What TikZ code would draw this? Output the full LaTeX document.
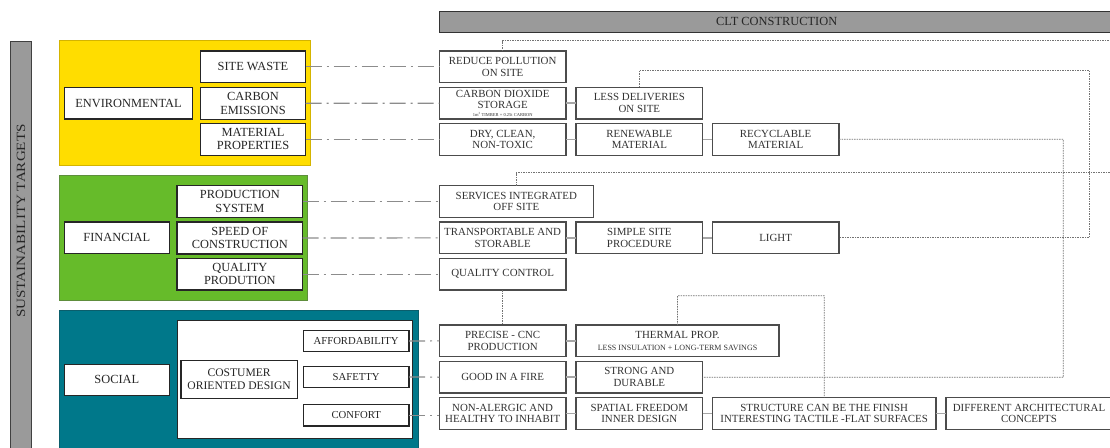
\documentclass[tikz,border=0pt]{standalone}
\usepackage{fontspec}
\setmainfont{Liberation Serif}
\definecolor{ylw}{HTML}{FFDD00}
\definecolor{ylwb}{HTML}{D4B400}
\definecolor{grn}{HTML}{66BB2A}
\definecolor{grnb}{HTML}{5E8E3C}
\definecolor{teal}{HTML}{00788A}
\definecolor{tealb}{HTML}{0B5E6C}
\definecolor{barg}{HTML}{9A9A9A}
\newcommand\bx[7][rbox]{\node[#1, minimum width={#5-#3}, minimum height={#6-#4}] (#2) at (#3,#4) {#7};}
\begin{document}
\begin{tikzpicture}[x=1pt,y=-1pt,
  basebox/.style={fill=white, inner sep=0pt, outer sep=0pt, align=center, anchor=north west},
  lbox/.style={basebox, draw=black!85, line width=1.3pt, text=black!85, font=\fontsize{12.4}{13.3}\selectfont},
  sbox/.style={basebox, draw=black!85, line width=1.3pt, text=black!85, font=\fontsize{10.7}{11.7}\selectfont},
  cbox/.style={basebox, draw=black!85, line width=1.1pt, text=black!85, font=\fontsize{11.6}{12.6}\selectfont},
  rbox/.style={basebox, draw=black!70, line width=1.2pt, text=black!80, font=\fontsize{10.9}{11.7}\selectfont},
  barbox/.style={anchor=north west, fill=barg, draw=black!80, line width=1pt, inner sep=0pt, text=black!85, font=\fontsize{12.4}{13.3}\selectfont},
  ddline/.style={draw=black!45, line width=1.2pt, dash pattern=on 16pt off 5pt on 2pt off 5pt},
  dotline/.style={draw=black!55, line width=0.8pt, dash pattern=on 1.5pt off 1pt},
  link/.style={draw=black!35, line width=1.5pt}
]
\useasboundingbox (0,0) rectangle (1110,447);

% left vertical bar
\draw[fill=barg, draw=black!75, line width=1pt] (10.3,41) rectangle (31.5,450);
\node[rotate=90, text=black!85] (sust) at (21,221) {\scalebox{1.2}[1]{\fontsize{12.6}{13}\selectfont SUSTAINABILITY TARGETS}};

% top bar
\node[barbox, minimum width={1125-439.3}, minimum height=21] (clt) at (439.3,10.7) {\hspace*{-12pt}CLT CONSTRUCTION};

% panels
\draw[fill=ylw, draw=ylwb, line width=1pt] (59.3,40.7) rectangle (310.7,165.7);
\draw[fill=grn, draw=grnb, line width=1pt] (59.3,175.7) rectangle (307.7,300.3);
\draw[fill=teal, draw=tealb, line width=1pt] (59.3,310) rectangle (418.3,450);
\draw[fill=white, draw=black!85, line width=1.3pt] (177.3,320.7) rectangle (412.7,438.3);

% environmental
\bx[lbox]{env}{64.3}{87.7}{192.7}{119}{ENVIRONMENTAL}
\bx[lbox]{waste}{200.3}{51}{305.7}{82.7}{SITE WASTE}
\bx[lbox]{carbon}{200.3}{87.5}{305.7}{119.2}{CARBON\\EMISSIONS}
\bx[lbox]{matprop}{200.3}{123.3}{305.7}{155.3}{MATERIAL\\PROPERTIES}

% financial
\bx[lbox]{fin}{64.3}{222}{169.3}{253.7}{FINANCIAL}
\bx[lbox]{prodsys}{177}{185.7}{302.7}{217.3}{PRODUCTION\\SYSTEM}
\bx[lbox]{speed}{177}{222}{302.7}{254}{SPEED OF\\CONSTRUCTION}
\bx[lbox]{qprod}{177}{258.3}{302.7}{290}{QUALITY\\PRODUTION}

% social
\bx[lbox]{social}{64.3}{364.3}{169.3}{395.3}{SOCIAL}
\bx[cbox]{costumer}{181}{360.3}{297.3}{398.7}{COSTUMER\\ORIENTED DESIGN}
\bx[sbox]{afford}{303.3}{330.3}{409}{351.7}{AFFORDABILITY}
\bx[sbox]{safety}{303.3}{366.3}{409}{387.7}{SAFETTY}
\bx[sbox]{confort}{303.3}{404.7}{409}{426}{CONFORT}

% right column - environmental
\bx{reduce}{439.3}{51}{566}{82.7}{REDUCE POLLUTION\\ON SITE}
\bx{co2}{439.3}{87.3}{566}{119}{CARBON DIOXIDE\\STORAGE\\[-4.3pt]{\fontsize{4.5}{5}\selectfont 1m\textsuperscript{3} TIMBER = 0.25t CARBON}}
\bx{less}{576}{87.3}{702.7}{119}{LESS DELIVERIES\\ON SITE}
\bx{dry}{439.3}{123.3}{566}{155.3}{DRY, CLEAN,\\NON-TOXIC}
\bx{renew}{576}{123.3}{702.7}{155.3}{RENEWABLE\\MATERIAL}
\bx{recycl}{712.3}{123.3}{839}{155.3}{RECYCLABLE\\MATERIAL}

% right column - financial
\bx{services}{439.3}{185.7}{593.3}{217.3}{SERVICES INTEGRATED\\OFF SITE}
\bx{transp}{439.3}{222}{566}{253.7}{TRANSPORTABLE AND\\STORABLE}
\bx{simple}{576}{222}{702.7}{253.7}{SIMPLE SITE\\PROCEDURE}
\bx{light}{712.3}{222}{839}{253.7}{LIGHT}
\bx{qc}{439.3}{258.3}{566}{290}{QUALITY CONTROL}

% right column - social
\bx{precise}{439.3}{325}{566}{356.7}{PRECISE - CNC\\PRODUCTION}
\bx{thermal}{576}{325}{779}{356.7}{THERMAL PROP.\\{\fontsize{8}{9}\selectfont LESS INSULATION + LONG-TERM SAVINGS}}
\bx{fire}{439.3}{361.3}{566}{393}{GOOD IN A FIRE}
\bx{strong}{576}{361.3}{702.7}{393}{STRONG AND\\DURABLE}
\bx{nonal}{439.3}{397.3}{566}{429.3}{NON-ALERGIC AND\\HEALTHY TO INHABIT}
\bx{spatial}{576}{397.3}{702.7}{429.3}{SPATIAL FREEDOM\\INNER DESIGN}
\bx{structure}{712.3}{397.3}{936}{429.3}{STRUCTURE CAN BE THE FINISH\\INTERESTING TACTILE -FLAT SURFACES}
\bx{diff}{946}{397.3}{1118}{429.3}{\hspace*{-6pt}DIFFERENT ARCHITECTURAL\\\hspace*{-6pt}CONCEPTS}

% dash-dot connectors
\draw[ddline] (waste.east) -- (reduce.west);
\draw[ddline] (carbon.east) -- (co2.west);
\draw[ddline] (matprop.east) -- (dry.west);
\draw[ddline] (prodsys.east) -- (services.west);
\draw[ddline] (speed.east) -- (transp.west);
\draw[ddline] (qprod.east) -- (qc.west);
\draw[ddline] (afford.east) -- (precise.west);
\draw[ddline] (safety.east) -- (fire.west);
\draw[ddline] (confort.east) -- (confort.east -| nonal.west);

% solid links
\draw[link] (co2.east) -- (less.west);
\draw[link] (dry.east) -- (renew.west);
\draw[link] (renew.east) -- (recycl.west);
\draw[link] (transp.east) -- (simple.west);
\draw[link] (simple.east) -- (light.west);
\draw[link] (precise.east) -- (thermal.west);
\draw[link] (fire.east) -- (strong.west);
\draw[link] (nonal.east) -- (spatial.west);
\draw[link] (spatial.east) -- (structure.west);
\draw[link] (structure.east) -- (diff.west);

% dotted connectors
\coordinate (endA) at (1111,40.8);
\coordinate (endB) at (1111,172.7);
\draw[dotline] (reduce.north) |- (endA);
\draw[dotline] (services.north) |- (endB);
\draw[dotline] (less.north) |- (1089.3,70.3) |- (light.east);
\draw[dotline] (recycl.east) -| (1063.3,377.2) -- (strong.east);
\draw[dotline] (qc.south) -- (precise.north);
\draw[dotline] (thermal.north) |- (824.2,295.7) -- (structure.north);
\end{tikzpicture}
\end{document}
